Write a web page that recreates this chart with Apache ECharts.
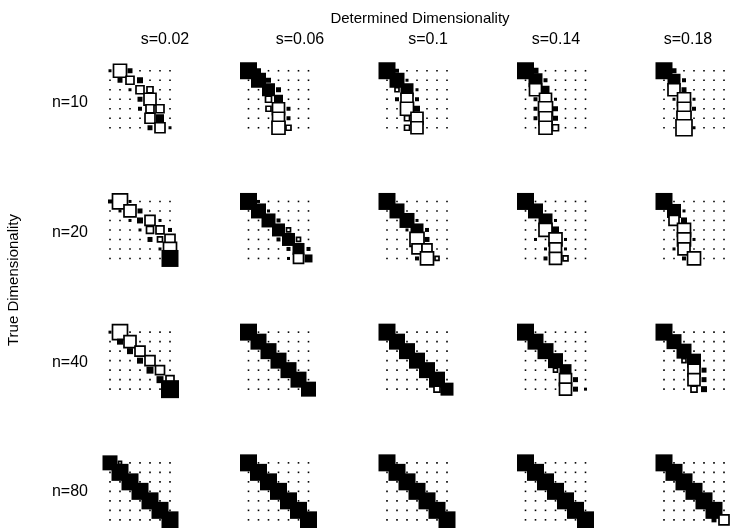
<!DOCTYPE html>
<html><head><meta charset="utf-8">
<script src="https://cdn.jsdelivr.net/npm/echarts@6/dist/echarts.min.js"></script>
<style>html,body{margin:0;padding:0;background:#fff}#c{width:734px;height:528px}</style>
</head><body><div id="c"></div>
<script>
// Column / row labels
const sLabels = ['s=0.02', 's=0.06', 's=0.1', 's=0.14', 's=0.18'];
const nLabels = ['n=10', 'n=20', 'n=40', 'n=80'];
const xTitle = 'Determined Dimensionality';
const yTitle = 'True Dimensionality';

// Hinton matrices: rows = true dim, cols = determined dim.
// value > 0 : black square, value < 0 : white square, 0 : dot. |value| = relative size
const n10 = [
  [[0.3,-1.3,0.5,0,0,0,0],[0,0.5,-0.8,0.6,0,0,0],[0,0,0.3,-0.8,-0.6,0,0],[0,0,0,0.5,-1.2,0,0],[0,0,0,0.4,-0.8,-0.8,0],[0,0,0,0,-1.0,0.8,0],[0,0,0,0,0.5,-1.0,0.3]],
  [[1.7,0.5,0,0,0,0,0],[0,1.5,0.5,0,0,0,0],[0,0,1.3,0.5,0,0,0],[0,0,-0.6,0.9,0,0,0],[0,0,-0.5,-1.2,0.4,0,0],[0,0,0,-1.2,0.4,0,0],[0,0,0,-1.3,-0.5,0,0]],
  [[1.7,0.4,0,0,0,0,0],[0,1.5,0.3,0,0,0,0],[0,-0.4,1.3,0.3,0,0,0],[0,0.4,-1.2,0.4,0,0,0],[0,0,-1.3,0.6,0,0,0],[0,0,-0.5,-1.2,0,0,0],[0,0,-0.5,-1.2,0,0,0]],
  [[1.7,0.6,0,0,0,0,0],[0,1.4,0.4,0,0,0,0],[0,-1.2,0.8,0,0,0,0],[0,0.4,-1.2,0.3,0,0,0],[0,0.4,-1.4,0.5,0,0,0],[0,0.4,-1.3,0.5,0,0,0],[0,0,-1.3,-0.6,0,0,0]],
  [[1.7,0.5,0,0,0,0,0],[0,1.3,0.4,0,0,0,0],[0,-1.2,0.5,0,0,0,0],[0,0.3,-1.3,0.3,0,0,0],[0,0,-1.3,0.4,0,0,0],[0,0,-1.4,0,0,0,0],[0,0,-1.6,0.3,0,0,0]]
];
const n20 = [
  [[0.4,-1.5,0.3,0,0,0,0],[0,0.3,-1.2,0.5,0,0,0],[0,0,0.3,0.6,-1.0,0.3,0],[0,0,0,0.3,-0.7,-0.8,0.4],[0,0,0,0,0.5,-0.5,-1.0],[0,0,0,0,0,0.3,-1.3],[0,0,0,0,0,0,1.7]],
  [[1.7,0.3,0,0,0,0,0],[0,1.5,0.3,0,0,0,0],[0,0,1.4,0.4,0,0,0],[0,0,0,1.3,-0.4,0,0],[0,0,0,0.4,1.3,-0.4,0],[0,0,0,0,0.4,1.2,0.4],[0,0,0,0,0.3,-1.0,0.8]],
  [[1.7,0,0,0,0,0,0],[0,1.5,0,0,0,0,0],[0,0,1.5,0.3,0,0,0],[0,0,0.3,1.3,0.4,0,0],[0,0,0,-1.4,0.5,0,0],[0,0,0,-1.0,-1.0,0,0],[0,0,0,0.4,-1.3,-0.4,0]],
  [[1.7,0,0,0,0,0,0],[0,1.5,0,0,0,0,0],[0,0,1.4,0.3,0,0,0],[0,0,-1.3,0.7,0,0,0],[0,0.3,0,-1.3,0.3,0,0],[0,0,0.3,-1.2,0.3,0,0],[0,0,0.4,-1.2,-0.5,0,0]],
  [[1.7,0,0,0,0,0,0],[0,1.4,0.3,0,0,0,0],[0,-1.0,0.6,0,0,0,0],[0,0,-1.3,0,0,0,0],[0,0,-1.3,0.3,0,0,0],[0,0.3,-1.2,0,0,0,0],[0,0,0.4,-1.3,0,0,0]]
];
const n40 = [
  [[0.3,-1.5,0,0,0,0,0],[0,0.6,-1.2,0,0,0,0],[0,0,0.6,-1.0,0,0,0],[0,0,0,0.6,-1.0,0,0],[0,0,0,0,0.7,-0.9,0],[0,0,0,0,0,0.7,-0.8],[0,0,0,0,0,0,1.8]],
  [[1.7,0,0,0,0,0,0],[0,1.6,0,0,0,0,0],[0,0,1.6,0,0,0,0],[0,0,0,1.6,0,0,0],[0,0,0,0,1.6,0,0],[0,0,0,0,0,1.6,0],[0,0,0,0,0,0,1.5]],
  [[1.7,0,0,0,0,0,0],[0,1.6,0,0,0,0,0],[0,0,1.6,0,0,0,0],[0,0,0,1.6,0,0,0],[0,0,0,0,1.6,0,0],[0,0,0,0,0,1.6,0],[0,0,0,0,0,-0.6,1.3]],
  [[1.7,0,0,0,0,0,0],[0,1.6,0,0,0,0,0],[0,0,1.6,0,0,0,0],[0,0,0,1.5,0,0,0],[0,0,0,-0.4,1.2,0,0],[0,0,0,0,-1.2,0.5,0],[0,0,0,0,-1.2,0.5,0.3]],
  [[1.7,0,0,0,0,0,0],[0,1.5,0,0,0,0,0],[0,0,1.5,0,0,0,0],[0,0,-0.4,1.4,0,0,0],[0,0,0,-1.2,0.5,0,0],[0,0,0,-1.2,0.5,0,0],[0,0,0,-0.6,0.6,0,0]]
];
const n80 = [
  [[1.5,-0.3,0,0,0,0,0],[0,1.7,0,0,0,0,0],[0,0,1.7,0,0,0,0],[0,0,0,1.7,0,0,0],[0,0,0,0,1.7,0,0],[0,0,0,0,0,1.7,0],[0,0,0,0,0,0,1.7]],
  [[1.7,0,0,0,0,0,0],[0,1.7,0,0,0,0,0],[0,0,1.7,0,0,0,0],[0,0,0,1.7,0,0,0],[0,0,0,0,1.7,0,0],[0,0,0,0,0,1.7,0],[0,0,0,0,0,0,1.7]],
  [[1.7,0,0,0,0,0,0],[0,1.7,0,0,0,0,0],[0,0,1.7,0,0,0,0],[0,0,0,1.7,0,0,0],[0,0,0,0,1.7,0,0],[0,0,0,0,0,1.7,0],[0,0,0,0,0,0,1.7]],
  [[1.7,0,0,0,0,0,0],[0,1.7,0,0,0,0,0],[0,0,1.7,0,0,0,0],[0,0,0,1.7,0,0,0],[0,0,0,0,1.7,0,0],[0,0,0,0,0,1.7,0],[0,0,0,0,0,0,1.7]],
  [[1.7,0,0,0,0,0,0],[0,1.7,0,0,0,0,0],[0,0,1.7,0,0,0,0],[0,0,0,1.7,0,0,0],[0,0,0,0,1.7,0,0],[0,0,0,0,0,1.7,0],[0,0,0,0,0,0.5,-1.0]]
];
const allRows = [n10, n20, n40, n80];

// layout (pixels)
const GX0 = 105, GDX = 138.5, GY0 = 66, GDY = 130.7, GW = 70, GH = 66.5, UNIT = 10;
const FONT = '"Liberation Sans", Arial, Helvetica, sans-serif';

const grids = [], xAxes = [], yAxes = [], series = [];
allRows.forEach((rowMats, ri) => rowMats.forEach((m, ci) => {
  const idx = grids.length;
  grids.push({ left: GX0 + ci * GDX, top: GY0 + ri * GDY, width: GW, height: GH });
  xAxes.push({ gridIndex: idx, type: 'value', min: -0.5, max: 6.5, show: false });
  yAxes.push({ gridIndex: idx, type: 'value', min: -0.5, max: 6.5, inverse: true, show: false });
  const dots = [], sq = [];
  m.forEach((row, r) => row.forEach((v, c) => {
    if (v === 0) dots.push([c, r]);
    else sq.push({
      value: [c, r, v],
      symbolSize: Math.abs(v) * UNIT,
      itemStyle: v > 0 ? { color: '#000', borderWidth: 0, opacity: 1 } : { color: '#fff', borderColor: '#000', borderWidth: 1.7, opacity: 1 }
    });
  }));
  series.push({ type: 'scatter', xAxisIndex: idx, yAxisIndex: idx, symbol: 'rect', symbolSize: 1.6,
    data: dots, itemStyle: { color: '#000', opacity: 1 }, silent: true, z: 1, emphasis: { disabled: true } });
  series.push({ type: 'scatter', xAxisIndex: idx, yAxisIndex: idx, symbol: 'rect',
    data: sq, itemStyle: { opacity: 1 }, silent: true, z: 2, emphasis: { disabled: true } });
}));

const sCenters = [165, 300, 428, 556, 688];
const nCenters = [103, 233, 363, 492];
const txt = (t, x, y, size, align, extra) => Object.assign({ type: 'text', x: x, y: y,
  style: { text: t, font: size + 'px ' + FONT, fill: '#000', align: align, verticalAlign: 'middle' } }, extra || {});
const graphic = [
  txt(xTitle, 420, 19, 15, 'center'),
  txt(yTitle, 14, 280, 15, 'center', { rotation: Math.PI / 2 })
];
sLabels.forEach((t, i) => graphic.push(txt(t, sCenters[i], 40, 16, 'center')));
nLabels.forEach((t, i) => graphic.push(txt(t, 88, nCenters[i], 16, 'right')));

const chart = echarts.init(document.getElementById('c'), null, { renderer: 'canvas' });
chart.setOption({ animation: false, backgroundColor: '#fff', grid: grids, xAxis: xAxes, yAxis: yAxes, series: series, graphic: graphic });
</script></body></html>
